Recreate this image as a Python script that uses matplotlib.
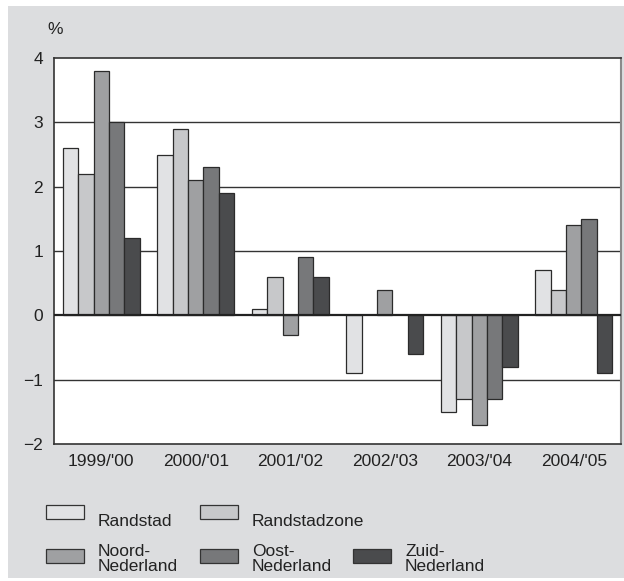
import numpy as np
import matplotlib
matplotlib.use("Agg")
import matplotlib.pyplot as plt
from matplotlib.patches import Rectangle

plt.rcParams['font.family'] = ['Liberation Sans', 'DejaVu Sans']

years = ["1999/'00", "2000/'01", "2001/'02", "2002/'03", "2003/'04", "2004/'05"]
regions = ["Randstad", "Randstadzone", "Noord-\nNederland", "Oost-\nNederland", "Zuid-\nNederland"]
randstad = [2.6, 2.5, 0.1, -0.9, -1.5, 0.7]
randstadzone = [2.2, 2.9, 0.6, np.nan, -1.3, 0.4]
noord = [3.8, 2.1, -0.3, 0.4, -1.7, 1.4]
oost = [3.0, 2.3, 0.9, np.nan, -1.3, 1.5]
zuid = [1.2, 1.9, 0.6, -0.6, -0.8, -0.9]
series = [randstad, randstadzone, noord, oost, zuid]
colors = ["#e1e2e4", "#c7c8ca", "#9fa0a2", "#77787a", "#4a4b4d"]

W, H = 624, 581
fig = plt.figure(figsize=(W / 100, H / 100), dpi=100)
fig.patch.set_facecolor("white")
# grey panel behind everything
fig.add_artist(Rectangle((8 / W, 3 / H), 1 - 8 / W, 572 / H, transform=fig.transFigure,
                         facecolor="#dcdddf", edgecolor="none", zorder=-10))

ax = fig.add_axes([54 / W, 1 - 444 / H, 567 / W, 386 / H])
ax.set_facecolor("white")

x = np.arange(len(years))
bw = 0.163
for i, (vals, c) in enumerate(zip(series, colors)):
    ax.bar(x + (i - 2) * bw, vals, width=bw, color=c, edgecolor="#2b2b2b",
           linewidth=0.9, zorder=3)

ax.set_xlim(-0.5, len(years) - 0.5)
ax.set_ylim(-2, 4)
ax.set_yticks([-2, -1, 0, 1, 2, 3, 4])
ax.set_xticks(x)
ax.set_xticklabels(years)
ax.tick_params(length=0, labelsize=12.5, colors="#222222", pad=7)
ax.tick_params(axis="y", pad=8)
for yv in [-1, 1, 2, 3]:
    ax.axhline(yv, color="#333333", lw=1.0, zorder=1)
ax.axhline(0, color="#222222", lw=1.6, zorder=4)
for s in ["left", "top", "bottom"]:
    ax.spines[s].set_color("#333333")
    ax.spines[s].set_linewidth(1.2)
ax.spines["right"].set_color("#8a8a8a")
ax.spines["right"].set_linewidth(1.5)

fig.text(47 / W, 1 - 29 / H, "%", fontsize=12.5, color="#222222", ha="left", va="center")

# legend
pos = [(46, 505), (200, 505), (46, 549), (200, 549), (353, 549)]
for (px, py), lab, c in zip(pos, regions, colors):
    fig.add_artist(Rectangle((px / W, 1 - (py + 14) / H), 38 / W, 14 / H,
                             transform=fig.transFigure, facecolor=c,
                             edgecolor="#333333", linewidth=0.9))
    ty = py + 17 if "\n" not in lab else py + 10
    fig.text((px + 52) / W, 1 - ty / H, lab, fontsize=12.5, color="#222222",
             ha="left", va="center", linespacing=0.95)

fig.savefig("out.png", dpi=100)
